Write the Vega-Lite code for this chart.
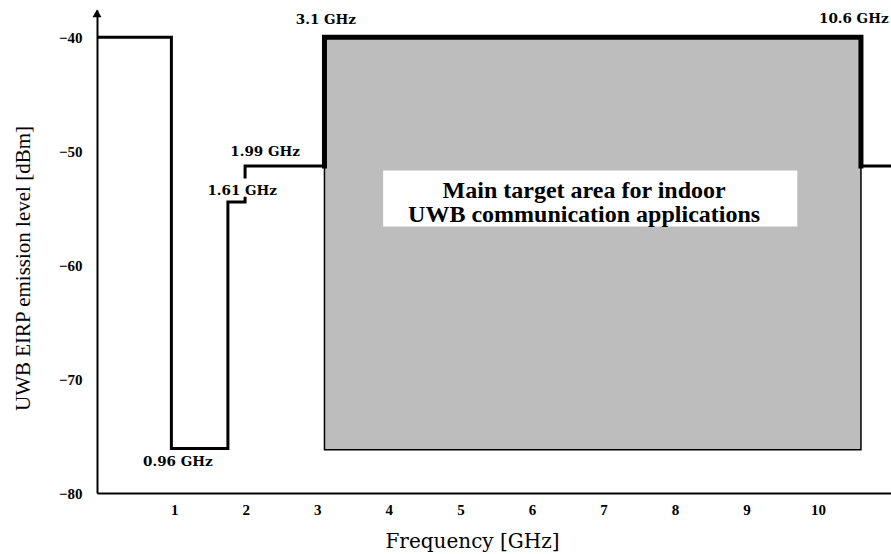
{
  "$schema": "https://vega.github.io/schema/vega-lite/v6.json",
  "width": 794,
  "height": 483,
  "autosize": {"type": "none"},
  "padding": {"left": 97, "top": 10, "right": 0, "bottom": 61},
  "background": "white",
  "config": {"view": {"stroke": null}, "axis": {"grid": false}},
  "datasets": {
    "area": [{"x": 3.1, "x2": 10.6, "y": -40, "y2": -76.2}],
    "box": [{"x": 3.92, "x2": 9.71, "y": -51.7, "y2": -56.6}],
    "mask": [
      {"i": 0, "part": "a", "x": -0.08, "y": -40},
      {"i": 1, "part": "a", "x": 0.96, "y": -40},
      {"i": 2, "part": "a", "x": 0.96, "y": -76.1},
      {"i": 3, "part": "a", "x": 1.75, "y": -76.1},
      {"i": 4, "part": "a", "x": 1.75, "y": -54.46},
      {"i": 5, "part": "a", "x": 1.99, "y": -54.46},
      {"i": 6, "part": "a", "x": 1.99, "y": -54.0},
      {"i": 7, "part": "b", "x": 1.99, "y": -52.4},
      {"i": 8, "part": "b", "x": 1.99, "y": -51.3},
      {"i": 9, "part": "b", "x": 3.1, "y": -51.3},
      {"i": 10, "part": "b", "x": 3.1, "y": -40},
      {"i": 11, "part": "b", "x": 10.6, "y": -40},
      {"i": 12, "part": "b", "x": 10.6, "y": -51.3},
      {"i": 13, "part": "b", "x": 11.02, "y": -51.3}
    ],
    "labels": [
      {"x": 3.12, "y": -38.48, "text": "3.1 GHz"},
      {"x": 10.5, "y": -38.4, "text": "10.6 GHz"},
      {"x": 2.27, "y": -50.1, "text": "1.99 GHz"},
      {"x": 1.95, "y": -53.5, "text": "1.61 GHz"},
      {"x": 1.05, "y": -77.3, "text": "0.96 GHz"}
    ],
    "note": [
      {"x": 6.73, "y": -54.11, "text": "Main target area for indoor"},
      {"x": 6.73, "y": -56.22, "text": "UWB communication applications"}
    ],
    "arrow": [{"x": -0.08, "y": -37.9}]
  },
  "layer": [
    {
      "data": {"name": "area"},
      "mark": {"type": "rect", "fill": "#bdbdbd", "stroke": "black", "strokeWidth": 1.5},
      "encoding": {
        "x": {
          "field": "x", "type": "quantitative",
          "scale": {"domain": [-0.08, 11.02], "nice": false, "zero": false},
          "axis": {
            "title": "Frequency [GHz]",
            "values": [1, 2, 3, 4, 5, 6, 7, 8, 9, 10],
            "format": "d",
            "ticks": false, "tickSize": 0,
            "domainColor": "black", "domainWidth": 2,
            "labelFont": "Liberation Serif", "labelFontWeight": "bold", "labelFontSize": 15,
            "labelColor": "black", "labelPadding": 9, "labelBaseline": "top", "labelFlush": false,
            "titleFont": "DejaVu Serif", "titleFontWeight": "normal", "titleFontSize": 20,
            "titleColor": "black", "titleX": 375, "titleY": 54,
            "titleBaseline": "alphabetic", "titleAlign": "center"
          }
        },
        "x2": {"field": "x2"},
        "y": {
          "field": "y", "type": "quantitative",
          "scale": {"domain": [-80, -37.6], "nice": false, "zero": false},
          "axis": {
            "title": "UWB EIRP emission level [dBm]",
            "values": [-40, -50, -60, -70, -80],
            "format": "d",
            "ticks": false, "tickSize": 0,
            "domainColor": "black", "domainWidth": 2,
            "labelFont": "Liberation Serif", "labelFontWeight": "bold", "labelFontSize": 15,
            "labelColor": "black", "labelPadding": 15, "labelBaseline": "middle",
            "titleFont": "Liberation Serif", "titleFontWeight": "normal", "titleFontSize": 21,
            "titleColor": "black", "titleX": -68, "titleY": 258, "titleAngle": -90,
            "titleBaseline": "alphabetic", "titleAlign": "center"
          }
        },
        "y2": {"field": "y2"}
      }
    },
    {
      "data": {"name": "box"},
      "mark": {"type": "rect", "fill": "white"},
      "encoding": {
        "x": {"field": "x", "type": "quantitative"},
        "x2": {"field": "x2"},
        "y": {"field": "y", "type": "quantitative"},
        "y2": {"field": "y2"}
      }
    },
    {
      "data": {"name": "mask"},
      "mark": {"type": "line", "color": "black", "strokeWidth": 3, "strokeJoin": "miter", "strokeCap": "butt"},
      "encoding": {
        "x": {"field": "x", "type": "quantitative"},
        "y": {"field": "y", "type": "quantitative"},
        "detail": {"field": "part"},
        "order": {"field": "i"}
      }
    },
    {
      "data": {"name": "mask"},
      "transform": [{"filter": "datum.i >= 9 && datum.i <= 12"}],
      "mark": {"type": "line", "color": "black", "strokeWidth": 5, "strokeJoin": "miter", "strokeCap": "square"},
      "encoding": {
        "x": {"field": "x", "type": "quantitative"},
        "y": {"field": "y", "type": "quantitative"},
        "order": {"field": "i"}
      }
    },
    {
      "data": {"name": "labels"},
      "mark": {"type": "text", "font": "DejaVu Serif", "fontWeight": "bold", "fontSize": 13.5, "color": "black", "align": "center", "baseline": "middle"},
      "encoding": {
        "x": {"field": "x", "type": "quantitative"},
        "y": {"field": "y", "type": "quantitative"},
        "text": {"field": "text"}
      }
    },
    {
      "data": {"name": "note"},
      "mark": {"type": "text", "font": "Liberation Serif", "fontWeight": "bold", "fontSize": 24, "color": "black", "align": "center", "baseline": "alphabetic"},
      "encoding": {
        "x": {"field": "x", "type": "quantitative"},
        "y": {"field": "y", "type": "quantitative"},
        "text": {"field": "text"}
      }
    },
    {
      "data": {"name": "arrow"},
      "mark": {"type": "point", "shape": "triangle-up", "filled": true, "color": "black", "size": 80, "opacity": 1, "clip": false},
      "encoding": {
        "x": {"field": "x", "type": "quantitative"},
        "y": {"field": "y", "type": "quantitative"}
      }
    }
  ]
}
